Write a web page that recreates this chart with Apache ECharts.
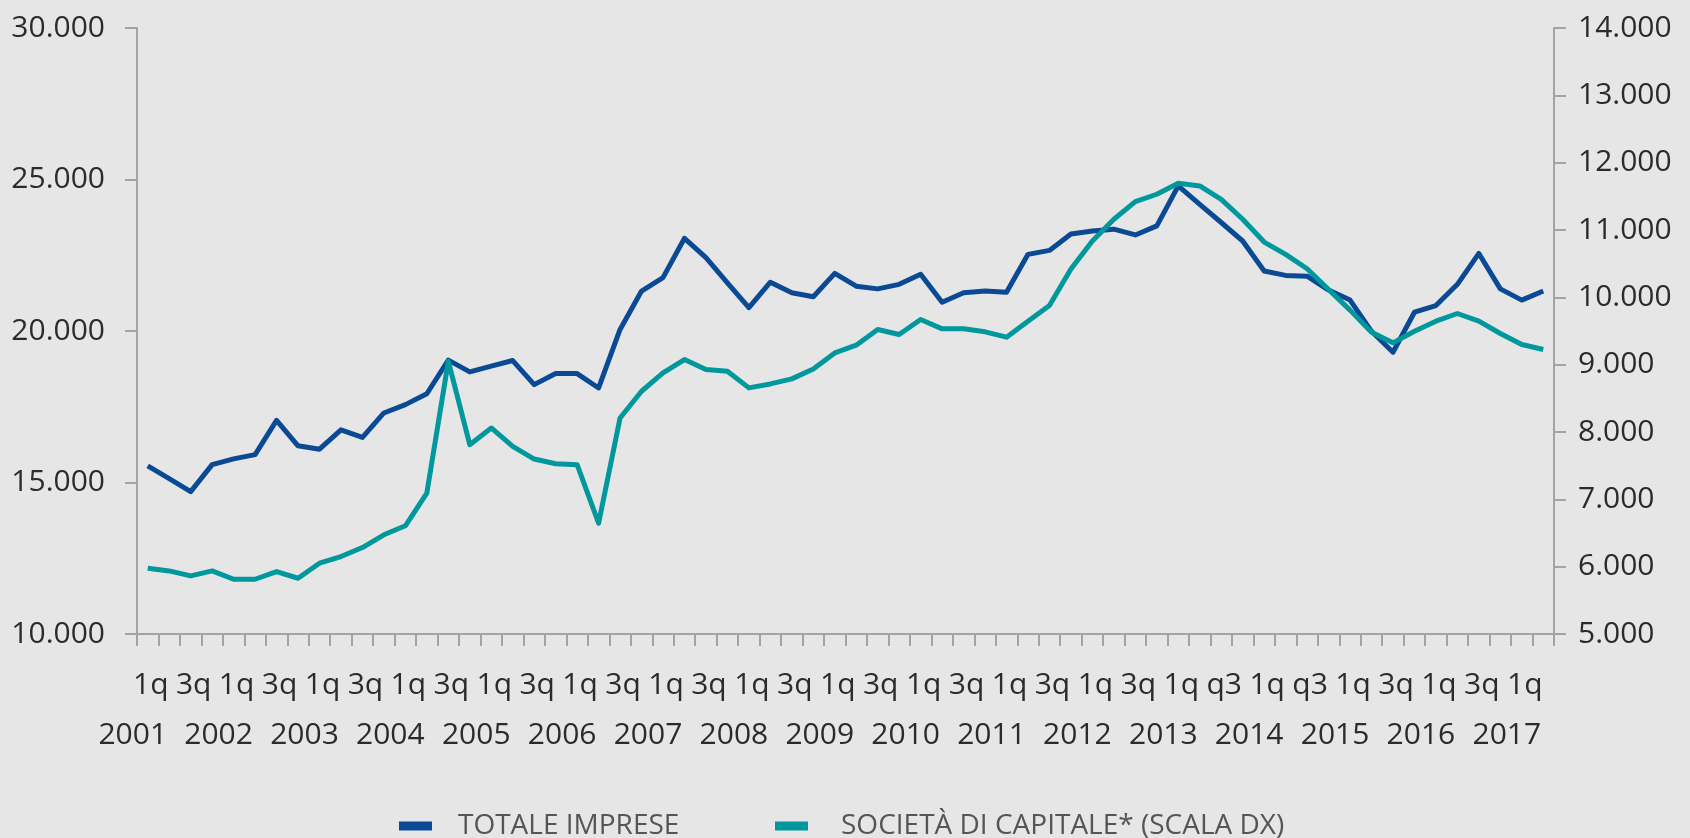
<!DOCTYPE html>
<html>
<head>
<meta charset="utf-8">
<script src="https://cdn.jsdelivr.net/npm/echarts@6/dist/echarts.min.js"></script>
<style>
  html, body { margin: 0; padding: 0; background: #e6e6e6; }
  #chart { width: 1690px; height: 838px; }
</style>
</head>
<body>
<div id="chart"></div>
<script>
// ---- data ----
const years = ['2001','2002','2003','2004','2005','2006','2007','2008','2009','2010','2011','2012','2013','2014','2015','2016','2017'];
const quarters = ['1q','2q','3q','4q'];
// labels shown every other quarter (as printed in the source)
const tickLabels = ['1q','3q','1q','3q','1q','3q','1q','3q','1q','3q','1q','3q','1q','3q','1q','3q','1q','3q','1q','3q','1q','3q','1q','3q','1q','q3','1q','q3','1q','3q','1q','3q','1q'];
const seriesNames = ['TOTALE IMPRESE', 'SOCIETÀ DI CAPITALE* (SCALA DX)'];
const totaleImprese = [
  15550, 15130, 14700, 15590, 15780, 15920, 17050, 16210, 16100, 16740, 16490,
  17295, 17570, 17930, 19040, 18650, 18840, 19025, 18230, 18595, 18595, 18120,
  20050, 21320, 21760, 23060, 22420, 21590, 20770, 21610, 21260, 21130, 21900,
  21480, 21390, 21540, 21870, 20950, 21260, 21320, 21280, 22530, 22660, 23200,
  23300, 23360, 23170, 23470, 24790, 24180, 23580, 22970, 21980, 21835, 21810,
  21350, 21020, 19990, 19300, 20620, 20840, 21540, 22560, 21390, 21020, 21320
];
const societaCapitale = [
  5977, 5937, 5863, 5937, 5813, 5813, 5927, 5828, 6051, 6150, 6284,
  6473, 6607, 7093, 9051, 7812, 8060, 7787, 7598, 7529, 7514, 6646,
  8208, 8605, 8878, 9076, 8927, 8902, 8655, 8714, 8789, 8937, 9175,
  9289, 9522, 9448, 9671, 9532, 9532, 9488, 9408, 9646, 9879, 10420,
  10836, 11159, 11421, 11531, 11694, 11654, 11456, 11159, 10821, 10638, 10425,
  10117, 9810, 9482, 9324, 9497, 9646, 9760, 9646, 9463, 9299, 9225
];
const leftAxis = { min: 10000, max: 30000, interval: 5000 };
const rightAxis = { min: 5000, max: 14000, interval: 1000 };

// ---- build ----
const categories = [];
years.forEach(y => quarters.forEach(q => categories.push(q + ' ' + y)));
categories.length = totaleImprese.length;

const fmt = v => String(v).replace(/\B(?=(\d{3})+(?!\d))/g, '.');
const FONT = "'Open Sans', sans-serif";
const TEXT = '#2b2b2b';
const AXIS = '#a3a3a3';
const BLUE = '#0a4a94';
const TEAL = '#00989c';

const chart = echarts.init(document.getElementById('chart'));
chart.setOption({
  backgroundColor: '#e6e6e6',
  animation: false,
  textStyle: { fontFamily: FONT },
  grid: { left: 137, right: 136, top: 28, bottom: 204, containLabel: false },
  legend: [
    {
      data: [seriesNames[0]], left: 394, top: 807,
      icon: 'rect', itemWidth: 33, itemHeight: 9,
      textStyle: { fontFamily: FONT, fontSize: 28, color: '#555555', padding: [0, 0, 0, 21] }
    },
    {
      data: [seriesNames[1]], left: 770, top: 807,
      icon: 'rect', itemWidth: 33, itemHeight: 9,
      textStyle: { fontFamily: FONT, fontSize: 28, color: '#555555', padding: [0, 0, 0, 28] }
    }
  ],
  xAxis: {
    type: 'category',
    data: categories,
    boundaryGap: true,
    axisLine: { lineStyle: { color: AXIS, width: 2 } },
    axisTick: { show: true, interval: 0, length: 12, lineStyle: { color: AXIS, width: 2 } },
    splitLine: { show: false },
    axisLabel: {
      interval: 0,
      hideOverlap: false,
      margin: 26,
      color: TEXT,
      fontFamily: FONT,
      fontSize: 30,
      formatter: function (value, idx) {
        if (idx % 2 !== 0) return '';
        const q = tickLabels[idx / 2];
        if (idx % 4 === 0) {
          return '{q|' + q + '}\n{y|' + years[idx / 4] + '}';
        }
        return '{q|' + q + '}';
      },
      rich: {
        q: { fontFamily: FONT, fontSize: 30, color: TEXT, lineHeight: 50, padding: [0, 0, 0, 6] },
        y: { fontFamily: FONT, fontSize: 30, color: TEXT, lineHeight: 50, padding: [0, 30, 0, 0] }
      }
    }
  },
  yAxis: [
    {
      type: 'value', position: 'left',
      min: leftAxis.min, max: leftAxis.max, interval: leftAxis.interval,
      axisLine: { show: true, lineStyle: { color: AXIS, width: 2 } },
      axisTick: { show: true, length: 12, lineStyle: { color: AXIS, width: 2 } },
      splitLine: { show: false },
      axisLabel: { margin: 32, color: TEXT, fontFamily: FONT, fontSize: 30, formatter: fmt }
    },
    {
      type: 'value', position: 'right',
      min: rightAxis.min, max: rightAxis.max, interval: rightAxis.interval,
      axisLine: { show: true, lineStyle: { color: AXIS, width: 2 } },
      axisTick: { show: true, length: 12, lineStyle: { color: AXIS, width: 2 } },
      splitLine: { show: false },
      axisLabel: { margin: 24, color: TEXT, fontFamily: FONT, fontSize: 30, formatter: fmt }
    }
  ],
  series: [
    {
      name: seriesNames[0], type: 'line', yAxisIndex: 0,
      data: totaleImprese, symbol: 'none', smooth: false,
      itemStyle: { color: BLUE },
      lineStyle: { color: BLUE, width: 5, join: 'round' }
    },
    {
      name: seriesNames[1], type: 'line', yAxisIndex: 1,
      data: societaCapitale, symbol: 'none', smooth: false,
      itemStyle: { color: TEAL },
      lineStyle: { color: TEAL, width: 5, join: 'round' }
    }
  ]
});
</script>
</body>
</html>
